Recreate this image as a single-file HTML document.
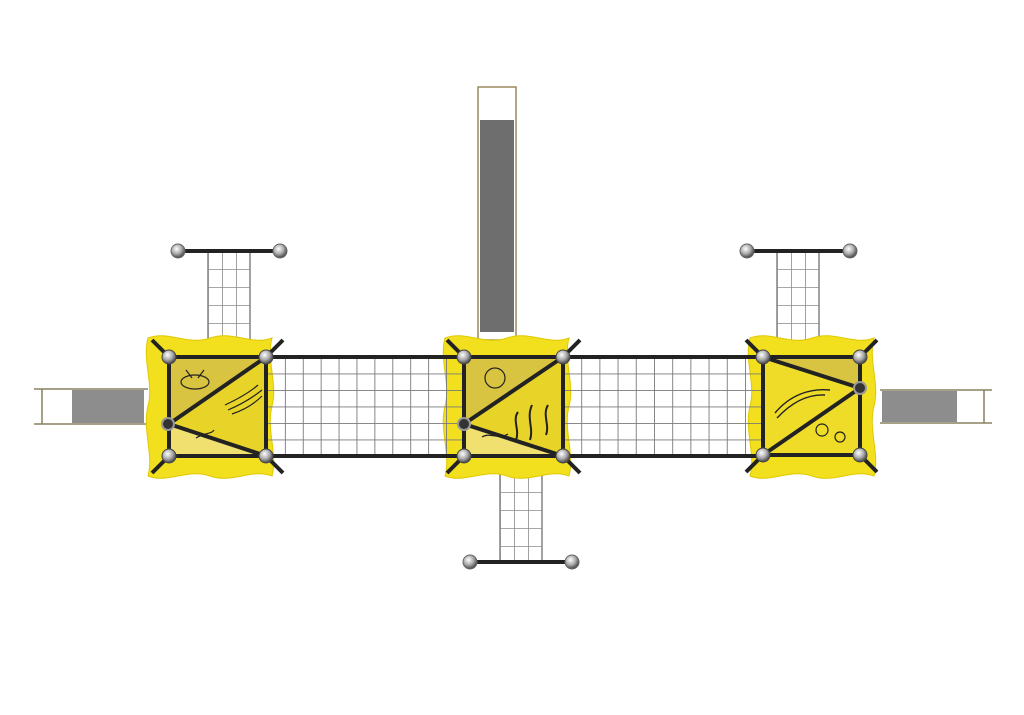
<!DOCTYPE html>
<html><head><meta charset="utf-8"><style>html,body{margin:0;padding:0;background:#fff}svg{display:block}</style></head>
<body>
<svg width="1024" height="715" viewBox="0 0 1024 715" xmlns="http://www.w3.org/2000/svg">
<defs>
<pattern id="net" x="267" y="357" width="17.9" height="16.5" patternUnits="userSpaceOnUse">
<path d="M0 0H17.9M0 0V16.5" stroke="#7a7a7a" stroke-width="1.8" fill="none"/>
</pattern>
<pattern id="net2" x="563" y="357" width="18.2" height="16.5" patternUnits="userSpaceOnUse">
<path d="M0 0H18.2M0 0V16.5" stroke="#7a7a7a" stroke-width="1.8" fill="none"/>
</pattern>
<pattern id="lad" width="14" height="18" patternUnits="userSpaceOnUse" patternContentUnits="userSpaceOnUse">
<path d="M0 0H14M0 0V18" stroke="#8a8a8a" stroke-width="1.6" fill="none"/>
</pattern>
<radialGradient id="ball" cx="40%" cy="35%" r="60%"><stop offset="0" stop-color="#fff"/><stop offset="0.6" stop-color="#aaa"/><stop offset="1" stop-color="#555"/></radialGradient>
<g id="board">
<path d="M0 0 C20 -8 40 8 62 0 C84 -8 104 8 124 0 C118 22 130 46 124 68 C118 92 130 116 124 138 C104 130 84 146 62 138 C40 130 20 146 0 138 C6 116 -6 92 0 68 C6 46 -6 22 0 0Z" fill="#f2e01e" stroke="#e0c800" stroke-width="1"/>
</g>
</defs>
<rect width="1024" height="715" fill="#fff"/>

<rect x="478" y="87" width="38" height="253" fill="#fff" stroke="#9a8a60" stroke-width="1.5"/>
<rect x="480" y="120" width="34" height="212" fill="#6e6e6e"/>
<path d="M34 389H148M34 424H148M42 389V424" stroke="#8a8060" stroke-width="1.5"/>
<rect x="72" y="390" width="72" height="33" fill="#8d8d8d"/>
<path d="M880 390H992M880 423H992M984 390V423" stroke="#8a8060" stroke-width="1.5"/>
<rect x="882" y="391" width="75" height="31" fill="#8d8d8d"/>

<g transform="translate(208 251)"><rect width="42" height="90" fill="url(#lad)" stroke="#8a8a8a" stroke-width="1.6"/></g>
<g transform="translate(777 251)"><rect width="42" height="90" fill="url(#lad)" stroke="#8a8a8a" stroke-width="1.6"/></g>
<g transform="translate(500 474)"><rect width="42" height="88" fill="url(#lad)" stroke="#8a8a8a" stroke-width="1.6"/></g>
<g stroke="#222" stroke-width="4">
<path d="M178 251H280M747 251H850M470 562H572"/></g>
<g fill="url(#ball)" stroke="#666">
<circle cx="178" cy="251" r="7"/><circle cx="280" cy="251" r="7"/>
<circle cx="747" cy="251" r="7"/><circle cx="850" cy="251" r="7"/>
<circle cx="470" cy="562" r="7"/><circle cx="572" cy="562" r="7"/></g>

<use href="#board" x="148" y="338"/>
<use href="#board" x="445" y="338"/>
<use href="#board" x="750" y="338"/>

<rect x="267" y="357" width="197" height="99" fill="url(#net)"/>
<rect x="563" y="357" width="200" height="99" fill="url(#net2)"/>
<g stroke="#222" stroke-width="4" fill="none">
<path d="M267 357H464M267 456H464M563 357H763M563 456H763"/>
</g>

<g>
<rect x="169" y="357" width="97" height="99" fill="#e8d428"/>
<polygon points="266,357 169,357 169,424" fill="#d8c440"/>
<polygon points="169,424 266,456 169,456" fill="#efe070"/>
<rect x="464" y="357" width="99" height="99" fill="#e8d428"/>
<polygon points="563,357 464,357 464,424" fill="#d8c440"/>
<polygon points="464,424 563,456 464,456" fill="#efe070"/>
<rect x="763" y="357" width="97" height="98" fill="#eedc28"/>
<polygon points="763,357 860,357 860,388" fill="#d8c440"/>
</g>
<g stroke="#222" stroke-width="4" fill="none" stroke-linejoin="round">
<rect x="169" y="357" width="97" height="99"/>
<path d="M266 357L169 424L266 456"/>
<rect x="464" y="357" width="99" height="99"/>
<path d="M563 357L464 424L563 456"/>
<rect x="763" y="357" width="97" height="98"/>
<path d="M763 357L860 388L763 455"/>
<path d="M152 340L169 357M283 340L266 357M152 473L169 456M283 473L266 456"/>
<path d="M447 340L464 357M580 340L563 357M447 473L464 456M580 473L563 456"/>
<path d="M746 340L763 357M877 340L860 357M746 472L763 455M877 472L860 455"/>
</g>
<g stroke="#222" stroke-width="1.2" fill="none">
<path d="M225 405C240 398 250 392 258 385M228 410C242 404 252 398 262 390M232 414C244 410 254 404 262 396"/>
<ellipse cx="195" cy="382" rx="14" ry="7"/><path d="M186 370L192 378M204 370L198 378"/>
<path d="M516 440C520 430 512 420 518 412M530 440C534 428 526 418 532 405M546 435C550 425 542 415 548 405" stroke-width="2"/>
<circle cx="495" cy="378" r="10"/><path d="M482 437C490 432 498 440 508 434"/>
<path d="M775 413C790 395 810 388 830 390M777 418C792 402 808 394 825 395" stroke-width="1.4"/>
<circle cx="822" cy="430" r="6"/><circle cx="840" cy="437" r="5"/><path d="M196 438C204 433 212 434 214 430"/>
</g>
<g fill="url(#ball)" stroke="#444">
<circle cx="169" cy="357" r="7"/><circle cx="266" cy="357" r="7"/><circle cx="169" cy="456" r="7"/><circle cx="266" cy="456" r="7"/>
<circle cx="464" cy="357" r="7"/><circle cx="563" cy="357" r="7"/><circle cx="464" cy="456" r="7"/><circle cx="563" cy="456" r="7"/>
<circle cx="763" cy="357" r="7"/><circle cx="860" cy="357" r="7"/><circle cx="763" cy="455" r="7"/><circle cx="860" cy="455" r="7"/>
</g>
<g fill="#333" stroke="#999" stroke-width="2">
<circle cx="168" cy="424" r="6"/><circle cx="464" cy="424" r="6"/><circle cx="860" cy="388" r="6"/>
</g>
</svg>
</body></html>
